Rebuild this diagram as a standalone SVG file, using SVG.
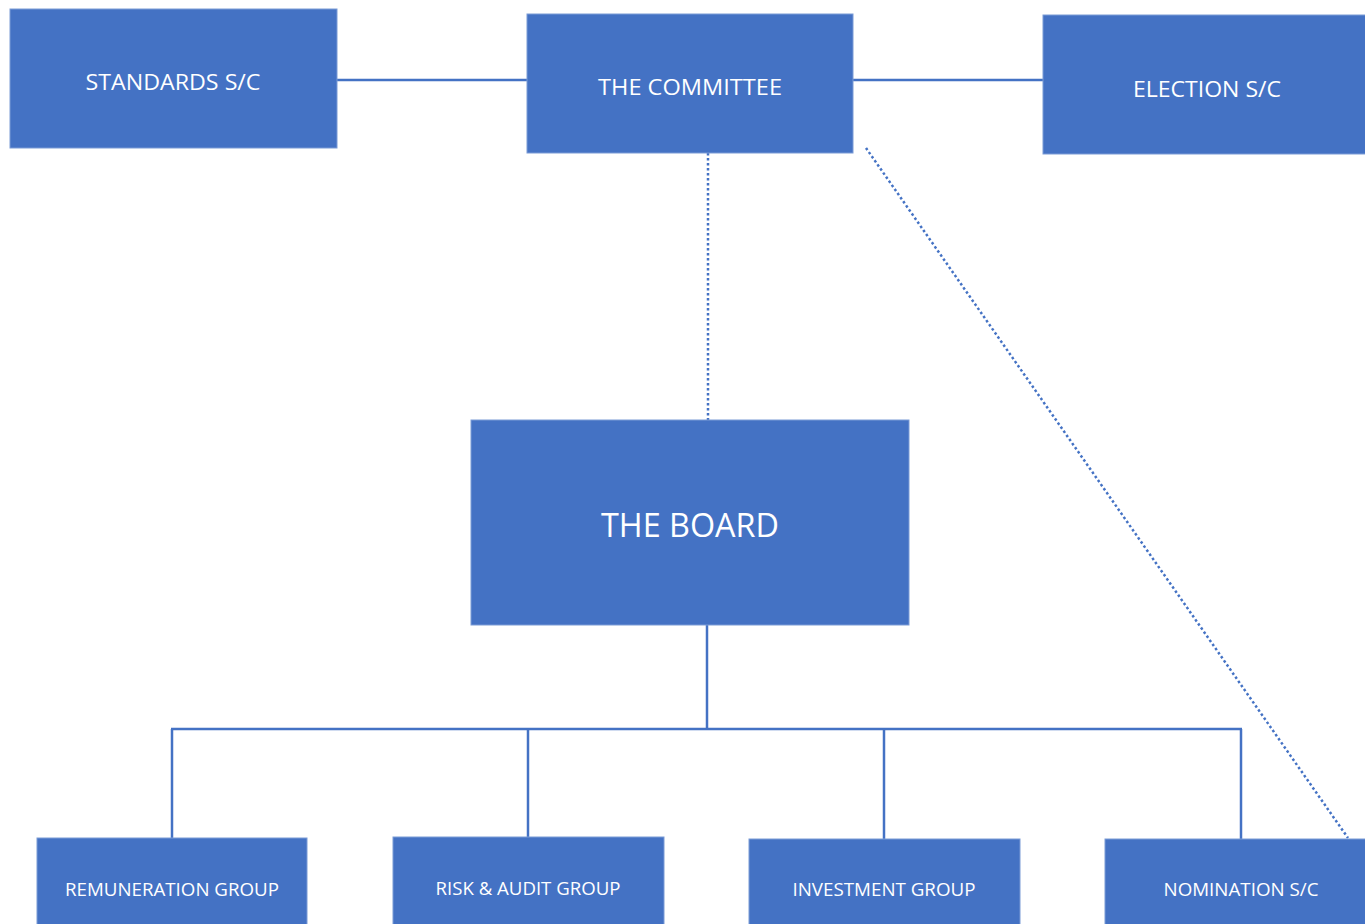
<svg xmlns="http://www.w3.org/2000/svg" width="1365" height="924" viewBox="0 0 1365 924">
<style>
.box{fill:#4472C4;stroke:#7B9BD6;stroke-width:1}
.t{fill:#FFFFFF;font-family:"Open Sans","Liberation Sans",sans-serif;text-anchor:middle}
.s{font-size:22px}
.b{font-size:32px}
.m{font-size:18px}
.c{stroke:#4472C4;stroke-width:2.5;fill:none}
.d{stroke:#4472C4;stroke-width:2.5;fill:none;stroke-dasharray:2.5 2.5}
</style>
<rect width="1365" height="924" fill="#FFFFFF"/>
<g id="connectors">
<line class="c" x1="337" y1="80" x2="527" y2="80"/>
<line class="c" x1="853" y1="80" x2="1043" y2="80"/>
<line class="d" x1="708" y1="153" x2="708" y2="420"/>
<line class="d" x1="866" y1="148" x2="1348" y2="838"/>
<line class="c" x1="707" y1="625" x2="707" y2="729"/>
<line class="c" x1="171" y1="729" x2="1242" y2="729"/>
<line class="c" x1="172" y1="729" x2="172" y2="838"/>
<line class="c" x1="528" y1="729" x2="528" y2="837"/>
<line class="c" x1="884" y1="729" x2="884" y2="839"/>
<line class="c" x1="1241" y1="729" x2="1241" y2="839"/>
</g>
<g id="standards">
<rect class="box" x="10" y="9" width="327" height="139"/>
<text class="t s" x="173" y="90" textLength="175" lengthAdjust="spacingAndGlyphs">STANDARDS S/C</text>
</g>
<g id="committee">
<rect class="box" x="527" y="14" width="326" height="139"/>
<text class="t s" x="690" y="95" textLength="184" lengthAdjust="spacingAndGlyphs">THE COMMITTEE</text>
</g>
<g id="election">
<rect class="box" x="1043" y="15" width="330" height="139"/>
<text class="t s" x="1207" y="97" textLength="148" lengthAdjust="spacingAndGlyphs">ELECTION S/C</text>
</g>
<g id="board">
<rect class="box" x="471" y="420" width="438" height="205"/>
<text class="t b" x="690" y="537" textLength="178" lengthAdjust="spacingAndGlyphs">THE BOARD</text>
</g>
<g id="remuneration">
<rect class="box" x="37" y="838" width="270" height="100"/>
<text class="t m" x="172" y="896" textLength="214" lengthAdjust="spacingAndGlyphs">REMUNERATION GROUP</text>
</g>
<g id="risk">
<rect class="box" x="393" y="837" width="271" height="100"/>
<text class="t m" x="528" y="895" textLength="185" lengthAdjust="spacingAndGlyphs">RISK &amp; AUDIT GROUP</text>
</g>
<g id="investment">
<rect class="box" x="749" y="839" width="271" height="100"/>
<text class="t m" x="884" y="896" textLength="183" lengthAdjust="spacingAndGlyphs">INVESTMENT GROUP</text>
</g>
<g id="nomination">
<rect class="box" x="1105" y="839" width="270" height="100"/>
<text class="t m" x="1241" y="896" textLength="155" lengthAdjust="spacingAndGlyphs">NOMINATION S/C</text>
</g>
</svg>
